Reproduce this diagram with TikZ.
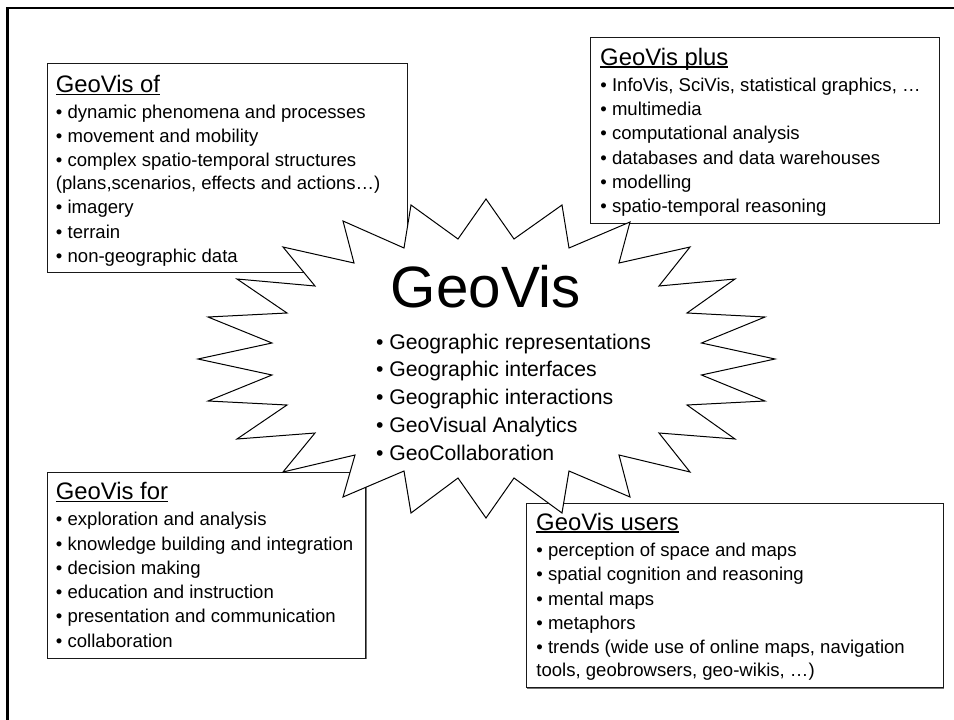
\documentclass[tikz,border=0pt]{standalone}
\usepackage{fontspec}
\setmainfont{Liberation Sans}
\newcommand\myul[1]{\setbox0\hbox{#1}\rlap{\rule[-2.8pt]{\wd0}{1.5pt}}\box0}
\tikzset{
  boxframe/.style={draw=black!90, line width=0.9pt, fill=white, inner sep=0pt, anchor=north west,
    preaction={draw=black!55, line width=1.2pt, transform canvas={shift={(0.7pt,-0.7pt)}}}},
  headtxt/.style={anchor=base west, inner sep=0pt, font=\fontsize{23.85}{28}\selectfont},
  listtxt/.style={anchor=base west, inner sep=0pt, font=\fontsize{18.55}{22.6}\selectfont},
  startxt/.style={anchor=base west, inner sep=0pt, font=\fontsize{21.2}{27.9}\selectfont},
  titletxt/.style={anchor=base, inner sep=0pt, font=\fontsize{58.3}{60}\selectfont},
}
\begin{document}
\begin{tikzpicture}[x=1pt,y=-1pt]
\useasboundingbox (0,0) rectangle (954,720);
% outer frame (only top and left visible)
\coordinate (fbl) at (7.3,721);
\coordinate (ftl) at (7.3,8);
\coordinate (ftr) at (955,8);
\draw[line width=2.7pt] (fbl) -- (ftl) -- (ftr);

% box frames
\node[boxframe, minimum width=360pt, minimum height=209pt] (ofbox) at (46.7,62.7) {};
\node[boxframe, minimum width=348.4pt, minimum height=186pt] (plusbox) at (590.3,36.7) {};
\node[boxframe, minimum width=318.3pt, minimum height=186pt] (forbox) at (46.7,471.7) {};
\node[boxframe, minimum width=416.4pt, minimum height=184.6pt] (usersbox) at (526.3,502.7) {};

% star
\draw[line width=1pt, fill=white, line join=miter]
 (486,199) -- (514,239) -- (562,205) -- (569,248) -- (630,222) -- (619,263) --
 (690,247) -- (659,286) -- (735,279) -- (687,313) -- (765,317) -- (701.5,343) --
 (775,359) -- (701.5,375) -- (765,401) -- (687,405) -- (735,439) -- (659,433) --
 (690,472) -- (619,455) -- (630,497) -- (569,471) -- (562,513) -- (514,478) --
 (486,518) -- (458,478) -- (411,513) -- (404,471) -- (343,497) -- (355,455) --
 (283,472) -- (315,433) -- (237,439) -- (287,405) -- (208,401) -- (272,375) --
 (198,359) -- (272,343) -- (208,317) -- (287,313) -- (237,279) -- (315,286) --
 (283,247) -- (354,263) -- (343,221) -- (404,248) -- (411,205) -- (458,239) -- cycle;

% centre text
\node[titletxt] (title) at (486,307.5) {GeoVis};
\node[startxt] (startlist) at (375.8,349) {\begin{tabular}[t]{@{}l@{}}
• Geographic representations\\
• Geographic interfaces\\
• Geographic interactions\\
• GeoVisual Analytics\\
• GeoCollaboration
\end{tabular}};

% GeoVis of
\node[headtxt] (ofhead) at (55.6,92.3) {\myul{GeoVis of}};
\node[listtxt] (oflist) at (55.8,118.3) {\begin{tabular}[t]{@{}l@{}}
• dynamic phenomena and processes\\[1.7pt]
• movement and mobility\\[1.7pt]
• complex spatio-temporal structures\\
(plans,scenarios, effects and actions…)\\[1.7pt]
• imagery\\[1.7pt]
• terrain\\[1.7pt]
• non-geographic data
\end{tabular}};

% GeoVis plus
\node[headtxt] (plushead) at (600,65) {\myul{GeoVis plus}};
\node[listtxt] (pluslist) at (600.2,91.2) {\begin{tabular}[t]{@{}l@{}}
• InfoVis, SciVis, statistical graphics, …\\[1.7pt]
• multimedia\\[1.7pt]
• computational analysis\\[1.7pt]
• databases and data warehouses\\[1.7pt]
• modelling\\[1.7pt]
• spatio-temporal reasoning
\end{tabular}};

% GeoVis for
\node[headtxt] (forhead) at (55.6,499.3) {\myul{GeoVis for}};
\node[listtxt] (forlist) at (55.8,525.7) {\begin{tabular}[t]{@{}l@{}}
• exploration and analysis\\[1.7pt]
• knowledge building and integration\\[1.7pt]
• decision making\\[1.7pt]
• education and instruction\\[1.7pt]
• presentation and communication\\[1.7pt]
• collaboration
\end{tabular}};

% GeoVis users
\node[headtxt] (usershead) at (536,530) {\myul{GeoVis users}};
\node[listtxt] (userslist) at (536.2,556.5) {\begin{tabular}[t]{@{}l@{}}
• perception of space and maps\\[1.7pt]
• spatial cognition and reasoning\\[1.7pt]
• mental maps\\[1.7pt]
• metaphors\\[1.7pt]
• trends (wide use of online maps, navigation\\
tools, geobrowsers, geo-wikis, …)
\end{tabular}};
\end{tikzpicture}
\end{document}
